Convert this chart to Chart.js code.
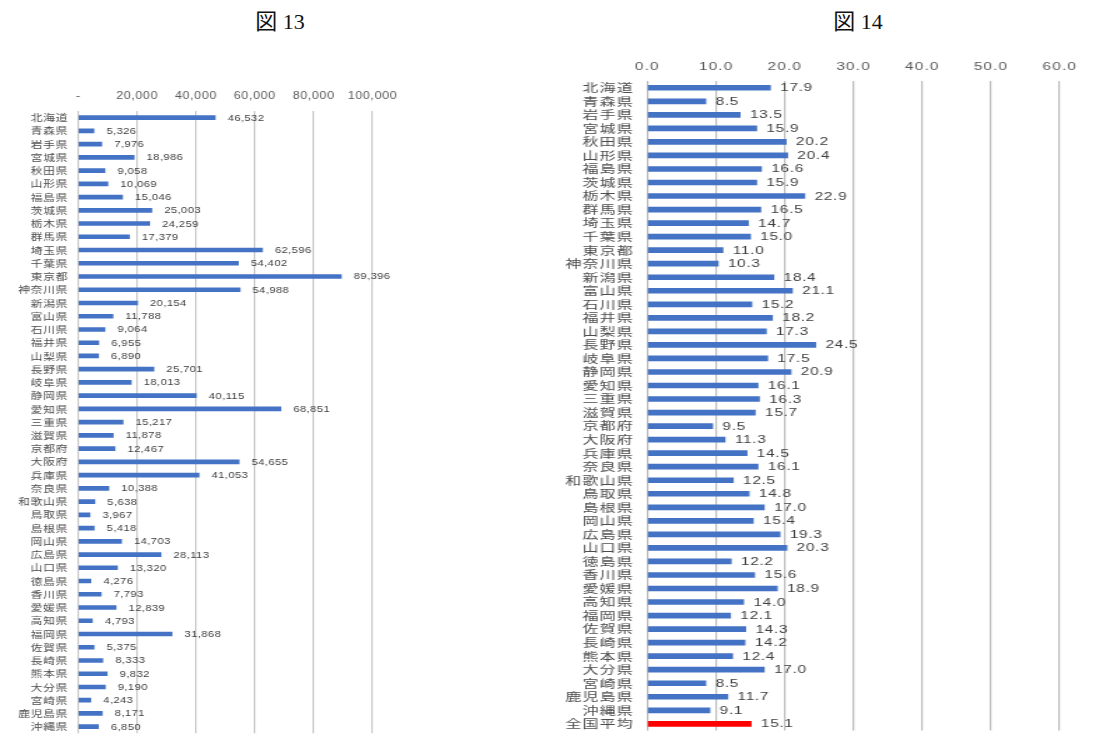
<!DOCTYPE html>
<html lang="ja">
<head>
<meta charset="utf-8">
<title>図13・図14</title>
<script src="https://cdn.jsdelivr.net/npm/chart.js@4/dist/chart.umd.min.js"></script>
<style>
  html, body { margin: 0; padding: 0; background: #fff; }
  #page { position: relative; width: 1117px; height: 747px; overflow: hidden; }
  .fig-title {
    position: absolute; top: 3px; transform: translateX(-50%);
    font-family: "Liberation Serif", "Noto Sans CJK JP", serif;
    font-size: 22px; color: #111; white-space: nowrap;
  }
  canvas { position: absolute; top: 0; }
</style>
</head>
<body>
<div id="page">
  <div class="fig-title" style="left:280px">図 13</div>
  <div class="fig-title" style="left:858px">図 14</div>
  <!-- the source figure is stretched sideways, so the canvases are too -->
  <canvas id="fig13" width="336" height="747" style="left:0;width:420px;height:747px"></canvas>
  <canvas id="fig14" width="398" height="747" style="left:560px;width:557px;height:747px"></canvas>
</div>
<script>
const prefectures = [
    '北海道', '青森県', '岩手県', '宮城県', '秋田県', '山形県', '福島県', '茨城県',
    '栃木県', '群馬県', '埼玉県', '千葉県', '東京都', '神奈川県', '新潟県', '富山県',
    '石川県', '福井県', '山梨県', '長野県', '岐阜県', '静岡県', '愛知県', '三重県',
    '滋賀県', '京都府', '大阪府', '兵庫県', '奈良県', '和歌山県', '鳥取県', '島根県',
    '岡山県', '広島県', '山口県', '徳島県', '香川県', '愛媛県', '高知県', '福岡県',
    '佐賀県', '長崎県', '熊本県', '大分県', '宮崎県', '鹿児島県', '沖縄県'
];

// 図13
const fig13Values = [
    46532, 5326, 7976, 18986, 9058, 10069, 15046, 25003,
    24259, 17379, 62596, 54402, 89396, 54988, 20154, 11788,
    9064, 6955, 6890, 25701, 18013, 40115, 68851, 15217,
    11878, 12467, 54655, 41053, 10388, 5638, 3967, 5418,
    14703, 28113, 13320, 4276, 7793, 12839, 4793, 31868,
    5375, 8333, 9832, 9190, 4243, 8171, 6850
];
const fig13Ticks = { min: 0, max: 100000, step: 20000 };

// 図14 (last row is the national average)
const averageLabel = '全国平均';
const fig14Labels = prefectures.concat([averageLabel]);
const fig14Values = [
    17.9, 8.5, 13.5, 15.9, 20.2, 20.4, 16.6, 15.9,
    22.9, 16.5, 14.7, 15.0, 11.0, 10.3, 18.4, 21.1,
    15.2, 18.2, 17.3, 24.5, 17.5, 20.9, 16.1, 16.3,
    15.7, 9.5, 11.3, 14.5, 16.1, 12.5, 14.8, 17.0,
    15.4, 19.3, 20.3, 12.2, 15.6, 18.9, 14.0, 12.1,
    14.3, 14.2, 12.4, 17.0, 8.5, 11.7, 9.1, 15.1
];
const fig14Ticks = { min: 0, max: 60, step: 10 };

const BLUE = '#4472c4';
const RED = '#ff0000';
const CJK = '"Noto Sans CJK JP", sans-serif';
const LATIN = '"Liberation Sans", Arial, sans-serif';

// value text at the end of each bar
function valueLabels(format, font, offset, spacing) {
    return {
        id: 'valueLabels',
        beforeDraw(chart) {
            chart.ctx.letterSpacing = spacing.ticks;
        },
        afterDatasetsDraw(chart) {
            const ctx = chart.ctx;
            const values = chart.data.datasets[0].data;
            ctx.save();
            ctx.font = font;
            ctx.fillStyle = '#404040';
            ctx.letterSpacing = spacing.values;
            ctx.textAlign = 'left';
            ctx.textBaseline = 'middle';
            chart.getDatasetMeta(0).data.forEach((bar, i) => {
                ctx.fillText(format(values[i]), bar.x + offset, bar.y + 0.5);
            });
            ctx.restore();
        }
    };
}

function barChart(id, labels, values, colors, ticks, layout) {
    const ctx = document.getElementById(id).getContext('2d');
    return new Chart(ctx, {
        type: 'bar',
        data: {
            labels: labels,
            datasets: [{
                data: values,
                backgroundColor: colors,
                barThickness: layout.barThickness
            }]
        },
        options: {
            indexAxis: 'y',
            responsive: false,
            animation: false,
            devicePixelRatio: 1,
            layout: { padding: { top: 0, left: 0, right: layout.right, bottom: layout.bottom } },
            plugins: { legend: { display: false }, tooltip: { enabled: false } },
            scales: {
                x: {
                    position: 'top',
                    min: ticks.min,
                    max: ticks.max,
                    afterFit: scale => { scale.height = layout.top; },
                    grid: { color: layout.gridColor, lineWidth: layout.gridWidth, drawTicks: false },
                    border: { display: false },
                    ticks: {
                        stepSize: ticks.step,
                        padding: layout.tickPad,
                        color: '#595959',
                        font: { family: LATIN, size: layout.tickSize },
                        callback: layout.tickFormat
                    }
                },
                y: {
                    afterFit: scale => { scale.width = layout.left; },
                    grid: { display: false, drawTicks: false },
                    border: { display: false },
                    ticks: {
                        autoSkip: false,
                        padding: layout.labelPad,
                        color: '#4d4d4d',
                        font: { family: CJK, size: layout.labelSize }
                    }
                }
            }
        },
        plugins: [valueLabels(layout.valueFormat, layout.valueFont, layout.valueOffset, layout.spacing)]
    });
}

barChart('fig13', prefectures, fig13Values, BLUE, fig13Ticks, {
    top: 111, bottom: 7, left: 62.6, right: 38,
    barThickness: 4,
    gridColor: '#c6c6c6',
    gridWidth: 1.2,
    tickSize: 10,
    tickPad: 9,
    labelSize: 9.5,
    labelPad: 8,
    tickFormat: v => v === 0 ? '-' : v.toLocaleString('en-US'),
    valueFormat: v => v.toLocaleString('en-US'),
    valueFont: '9px ' + LATIN,
    valueOffset: 10,
    spacing: { ticks: '0.5px', values: '0.3px' }
});

barChart('fig14', fig14Labels, fig14Values,
    fig14Labels.map(name => name === averageLabel ? RED : BLUE),
    fig14Ticks, {
    top: 81, bottom: 8, left: 62.4, right: 40.9,
    barThickness: 5,
    gridColor: '#bcbcbc',
    gridWidth: 1.2,
    tickSize: 11,
    tickPad: 7,
    labelSize: 11.5,
    labelPad: 9.5,
    tickFormat: v => v.toFixed(1),
    valueFormat: v => v.toFixed(1),
    valueFont: '11px ' + LATIN,
    valueOffset: 7,
    spacing: { ticks: '0.8px', values: '0.5px' }
});
</script>
</body>
</html>
